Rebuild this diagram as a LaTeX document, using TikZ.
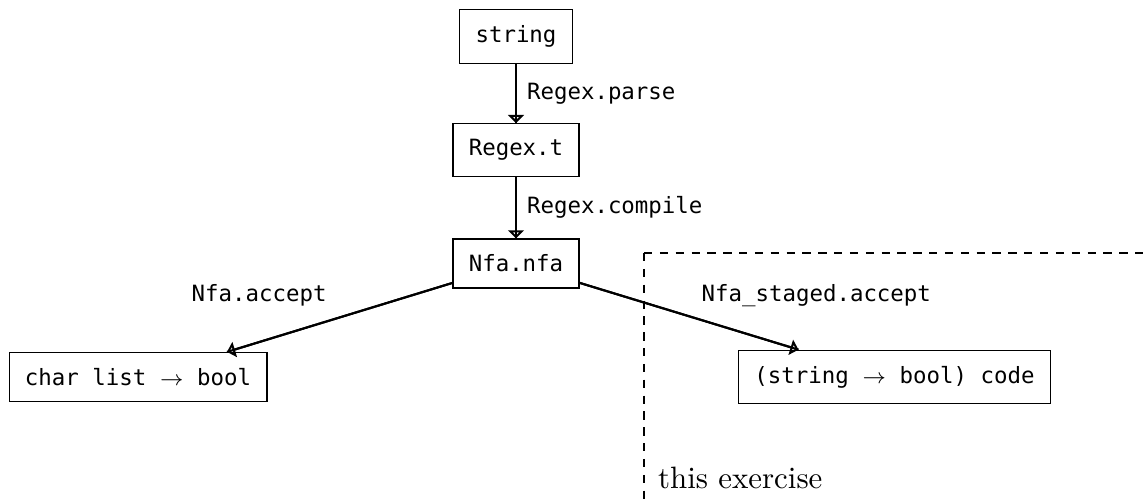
\documentclass[tikz,border=0pt]{standalone}
\usepackage{fontspec}
\setmonofont{DejaVu Sans Mono}
\usetikzlibrary{arrows.meta,calc}
\newcommand{\monof}{\fontsize{7.47pt}{9pt}\selectfont\ttfamily}
\tikzset{
  box/.style={draw, line width=0.4pt, inner sep=5.25pt, font=\monof},
  lbl/.style={inner sep=0pt, font=\monof},
  elbl/.style={inner sep=3.333pt, font=\monof},
  conn/.style={line width=0.7pt,
    postaction={draw, line width=0.7pt, -{Triangle[open, length=2.7pt, width=5.2pt]}}},
  dashline/.style={line width=0.35pt, dash pattern=on 2.77pt off 2.51pt},
}
\begin{document}
\begin{tikzpicture}[x=1pt/3, y=-1pt/3]
\useasboundingbox (0,0) rectangle (1143,501);
\node[box] (str) at (516,36.5) {string};
\node[box] (rt) at (516,150) {Regex.t};
\node[box] (nfa) at (516,263.5) {Nfa.nfa};
\node[box] (cl) at (138,377) {char list $\rightarrow$ bool};
\node[box] (code) at (894.5,377) {(string $\rightarrow$ bool) code};
\draw[conn] (str) -- (rt) node[midway, right, elbl] {Regex.parse};
\draw[conn] (rt) -- (nfa) node[midway, right, elbl] {Regex.compile};
\draw[conn] (nfa) -- ($(cl.north)+(89,0)$);
\draw[conn] (nfa) -- ($(code.north)+(-96,0)$);
\node[lbl, anchor=base west] (la) at (191,302) {Nfa.accept};
\node[lbl, anchor=base west] (lb) at (701,302) {Nfa\_staged.accept};
\coordinate (dc) at (644,253);
\coordinate (dr) at (1143,253);
\coordinate (db) at (644,501);
\draw[dashline] (dc) -- (dr);
\draw[dashline] (dc) -- (db);
\node[anchor=base west, inner sep=0pt, font=\fontsize{10.3pt}{12pt}\selectfont] (ex) at (657.5,489) {this exercise};
\end{tikzpicture}
\end{document}
